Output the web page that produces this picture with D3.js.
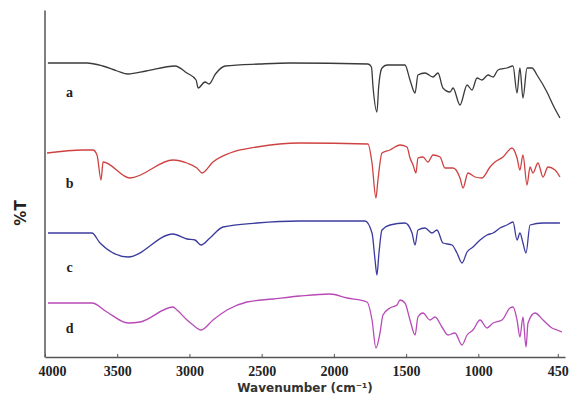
<!DOCTYPE html>
<html><head><meta charset="utf-8">
<script src="https://cdn.jsdelivr.net/npm/d3@7"></script>
<style>body{margin:0;background:#fff}svg{display:block}</style>
</head><body><svg id="chart" width="572" height="401"></svg>
<script>
// ---- data (offset %T, arbitrary units) ----
const xTickValues = [4000, 3500, 3000, 2500, 2000, 1500, 1000, 450];
const seriesNames = ["a", "b", "c", "d"];
const seriesColors = ["#3a3a3a", "#cf4242", "#3b3b9e", "#b84ab8"];

const wnA = [3980,3710,3600,3500,3425,3300,3100,3017,2954,2940,2892,2864,2820,2753,2511,2304,1764,1740,1729,1702,1690,1667,1632,1508,1473,1438,1418,1369,1314,1279,1245,1196,1175,1127,1078,1044,1009,975,933,898,864,802,760,732,712,691,663,628,594,525,483,435];
const tA  = [294,294,291,286,283,286,291,284,277,269,275,273,283,291,293,294,293,290,270,245,270,289,292,292,277,264,282,284,280,284,269,265,269,252,272,267,279,277,282,280,287,289,291,264,289,259,289,289,282,265,252,239];

const wnB = [3986,3737,3668,3640,3612,3598,3412,3114,3017,2948,2913,2837,2719,2532,2235,1764,1736,1709,1695,1667,1612,1542,1494,1473,1452,1432,1418,1383,1349,1314,1265,1231,1175,1127,1106,1072,1023,975,919,885,829,767,732,712,691,663,642,622,587,552,518,469,435];
const tB  = [204,207,207,202,177,195,179,197,194,189,184,195,204,210,214,213,194,159,177,204,207,212,210,199,192,184,199,200,195,202,200,189,189,179,169,184,180,179,190,195,200,209,199,187,202,172,190,184,194,180,190,187,180];

const wnC = [3979,3675,3619,3425,3114,3017,2962,2920,2858,2768,2532,2235,1785,1736,1715,1702,1688,1667,1612,1508,1459,1438,1418,1369,1321,1286,1245,1182,1148,1113,1078,1037,988,940,898,850,802,760,732,712,691,670,642,552,483,435];
const tC  = [124,124,114,100,123,118,117,112,119,130,134,136,136,124,97,82,104,127,132,134,124,112,127,129,124,127,114,112,104,94,105,110,117,122,124,129,132,135,117,124,114,104,132,134,134,134];

const wnD = [3979,3675,3571,3425,3342,3114,3086,3017,2975,2920,2837,2740,2602,2422,2235,2027,1909,1771,1736,1709,1681,1660,1612,1563,1542,1508,1473,1438,1418,1383,1335,1300,1252,1210,1162,1113,1078,1037,988,940,898,836,781,760,732,712,691,670,656,608,552,490,455,421];
const tD  = [54,54,45,34,35,50,47,37,32,27,37,47,55,58,61,63,59,55,37,9,24,42,49,52,57,54,37,22,40,44,37,40,30,22,24,12,22,27,37,29,34,37,49,50,37,20,40,10,34,44,37,29,27,25];

const seriesLabelT = [265, 174, 90, 29];

const allWn = [wnA, wnB, wnC, wnD];
const allT = [tA, tB, tC, tD];

// ---- layout ----
const svg = d3.select("#chart");
const x = d3.scaleLinear().domain([4000, 400]).range([45, 565]);
const y = d3.scaleLinear().domain([0, 347]).range([357, 10]);

const line = d3.line().curve(d3.curveMonotoneX).x(d => x(d[0])).y(d => y(d[1]));

seriesNames.forEach((name, i) => {
  const pts = allWn[i].map((w, j) => [w, allT[i][j]]).sort((p, q) => p[0] - q[0]);
  svg.append("path")
    .datum(pts)
    .attr("fill", "none")
    .attr("stroke", seriesColors[i])
    .attr("stroke-width", 1.3)
    .attr("stroke-linejoin", "round")
    .attr("d", line);
  svg.append("text")
    .attr("x", x(3830))
    .attr("y", y(seriesLabelT[i]))
    .attr("text-anchor", "middle")
    .attr("dominant-baseline", "central")
    .attr("font-family", "Liberation Serif, serif")
    .attr("font-weight", "bold")
    .attr("font-size", 14)
    .attr("fill", "#222")
    .text(name);
});

// x axis
const xAxis = d3.axisBottom(x)
  .tickValues(xTickValues)
  .tickFormat(d3.format("d"))
  .tickSizeInner(-3).tickSizeOuter(0).tickPadding(9);
const gx = svg.append("g").attr("transform", "translate(0,357)").call(xAxis);
gx.select(".domain").attr("stroke", "#555").attr("stroke-width", 1.5);
gx.selectAll(".tick line").attr("stroke", "#555");
gx.selectAll(".tick text")
  .attr("font-family", "Liberation Serif, serif")
  .attr("font-weight", "bold")
  .attr("font-size", 14)
  .attr("fill", "#222")
  .attr("dx", d => d === 4000 ? 7 : 0);

// y axis (no ticks)
const yAxis = d3.axisLeft(y).tickValues([]).tickSizeOuter(0);
const gy = svg.append("g").attr("transform", "translate(44.5,0)").call(yAxis);
gy.select(".domain").attr("stroke", "#555").attr("stroke-width", 1.5);

// axis titles
svg.append("text")
  .attr("x", 305).attr("y", 392)
  .attr("text-anchor", "middle")
  .attr("font-family", "DejaVu Sans, sans-serif")
  .attr("font-weight", "bold")
  .attr("font-size", 12)
  .attr("fill", "#333")
  .text("Wavenumber (cm\u207B\u00B9)");

svg.append("text")
  .attr("transform", "translate(26,213) rotate(-90)")
  .attr("text-anchor", "middle")
  .attr("font-family", "DejaVu Sans, sans-serif")
  .attr("font-weight", "bold")
  .attr("font-size", 15)
  .attr("fill", "#222")
  .text("%T");
</script>
</body></html>
